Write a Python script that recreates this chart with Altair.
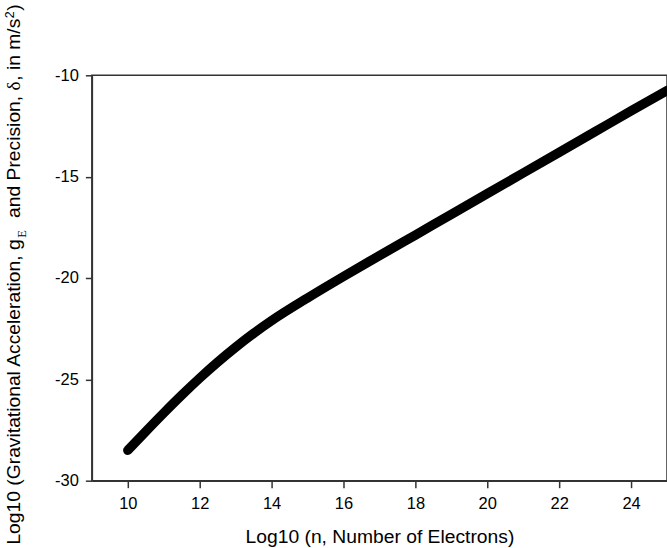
import altair as alt
import pandas as pd

# ---- data ----
log_n = [10, 10.5, 11, 11.5, 12, 12.5, 13, 13.5, 14, 15, 16, 17, 18, 19, 20, 21, 22, 23, 24, 25]
log_g = [-28.5, -27.57, -26.66, -25.78, -24.94, -24.15, -23.415, -22.735, -22.105, -20.985,
         -19.925, -18.9, -17.88, -16.86, -15.84, -14.82, -13.80, -12.78, -11.76, -10.75]
x_ticks = [10, 12, 14, 16, 18, 20, 22, 24]
y_ticks = [-30, -25, -20, -15, -10]
x_title = "Log10 (n, Number of Electrons)"

df = pd.DataFrame({"log_n": log_n, "log_g": log_g})

W, H = 576, 406
PAD_L, PAD_T = 92, 75
FONT = "Liberation Sans"
SERIF = "Liberation Serif"
TF = 19.3   # title font size
SF = 12.5   # sub/superscript size

# Arial advance widths (per em) for laying out the rotated y title pieces
AW = {'L': .556, 'o': .556, 'g': .556, '1': .556, '0': .556, ' ': .278, '(': .333, ')': .333,
      'G': .778, 'r': .333, 'a': .556, 'v': .5, 'i': .222, 't': .278, 'n': .556, 'l': .222,
      'A': .667, 'c': .5, 'e': .556, ',': .278, 'P': .667, 's': .5, 'm': .833, '/': .278, 'd': .556}


def tw(s, size):
    return sum(AW.get(ch, .556) for ch in s) * size


base_x = 20.5 - PAD_L
pieces = []
y = 545.0 - PAD_T
seg = "Log10 (Gravitational Acceleration, g"
pieces.append((seg, y, base_x, TF, FONT)); y -= tw(seg, TF) + 0.5
pieces.append(("E", y, base_x + 5.5, SF, SERIF)); y -= 0.611 * SF + 2 * 0.278 * TF + 1.5
seg = "and Precision, "
pieces.append((seg, y, base_x, TF, FONT)); y -= tw(seg, TF)
pieces.append(("\u03b4", y, base_x, TF, SERIF)); y -= 0.5 * TF
seg = ", in m/s"
pieces.append((seg, y, base_x, TF, FONT)); y -= tw(seg, TF) + 0.5
pieces.append(("2", y, base_x - 6, SF, FONT)); y -= 0.556 * SF + 0.5
pieces.append((")", y, base_x, TF, FONT))

one = pd.DataFrame({"k": [0]})
title_layers = [
    alt.Chart(one).mark_text(angle=270, align="left", baseline="alphabetic", font=fnt,
                             fontSize=fs, color="black")
    .encode(x=alt.value(px), y=alt.value(py), text=alt.value(txt))
    for (txt, py, px, fs, fnt) in pieces
]

line = alt.Chart(df).mark_line(
    color="black", strokeWidth=9.5, strokeCap="round", strokeJoin="round",
    interpolate="monotone"
).encode(
    x=alt.X("log_n:Q",
            scale=alt.Scale(domain=[9, 25], nice=False, zero=False),
            axis=alt.Axis(values=x_ticks, title=x_title, grid=False,
                          tickSize=7, labelPadding=8, labelFontSize=16.5,
                          titleFontSize=TF, titleBaseline="alphabetic", titleY=62)),
    y=alt.Y("log_g:Q",
            scale=alt.Scale(domain=[-30, -10], nice=False, zero=False),
            axis=alt.Axis(values=y_ticks, title=None, grid=False,
                          labelExpr="datum.value + ''",
                          tickSize=6.5, labelPadding=7, labelFontSize=16.5)),
)

chart = alt.layer(line, *title_layers).properties(
    width=W, height=H,
    autosize=alt.AutoSizeParams(type="none"),
    padding={"left": PAD_L, "top": PAD_T, "right": 0, "bottom": 548 - PAD_T - H},
).configure_view(
    stroke="#333", strokeWidth=1.5
).configure_axis(
    domainColor="#333", domainWidth=1.5, tickColor="#333", tickWidth=1.5,
    labelColor="black", labelFont=FONT, titleFont=FONT, titleColor="black",
    titleFontWeight="normal"
)

chart.save("out.html", embed_options={"renderer": "svg", "actions": False})
